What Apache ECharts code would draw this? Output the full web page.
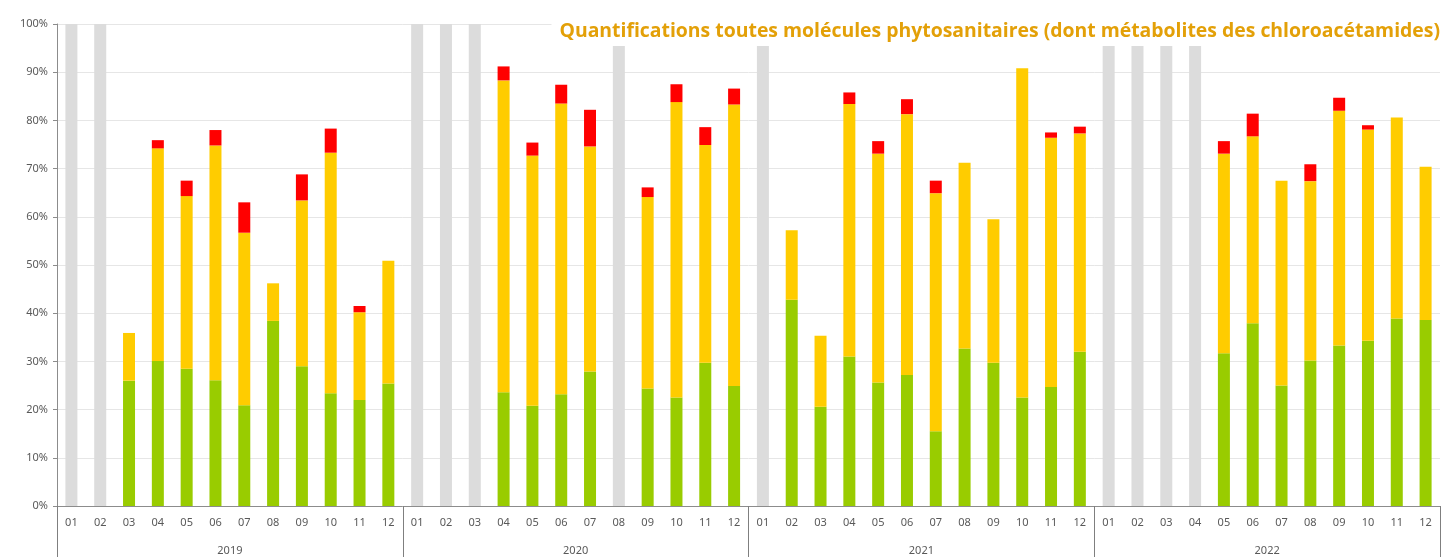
<!DOCTYPE html>
<html>
<head>
<meta charset="utf-8">
<script src="https://cdn.jsdelivr.net/npm/echarts@6/dist/echarts.min.js"></script>
<style>
  html, body { margin: 0; padding: 0; background: #fff; }
  #chart { width: 1444px; height: 557px; }
</style>
</head>
<body>
<div id="chart"></div>
<script>
// mois et années (axe à deux niveaux)
var years = ['2019', '2020', '2021', '2022'];
var months = ['01','02','03','04','05','06','07','08','09','10','11','12'];

// valeurs en % par segment (vert = bas, jaune = milieu, rouge = haut), '-' = pas de donnée
var green = [
  '-', '-', 26.0, 30.1, 28.5, 26.1, 20.9, 38.4, 29.0, 23.4, 22.0, 25.4,
  '-', '-', '-', 23.6, 20.8, 23.2, 27.9, '-', 24.4, 22.5, 29.7, 24.9,
  '-', 42.8, 20.6, 31.0, 25.6, 27.2, 15.5, 32.7, 29.7, 22.5, 24.7, 32.0,
  '-', '-', '-', '-', 31.7, 37.9, 25.0, 30.2, 33.3, 34.3, 38.9, 38.6
];
var yellow = [
  '-', '-', 9.9, 44.1, 35.8, 48.7, 35.8, 7.8, 34.4, 49.9, 18.2, 25.5,
  '-', '-', '-', 64.7, 51.9, 60.3, 46.7, '-', 39.7, 61.3, 45.2, 58.4,
  '-', 14.4, 14.7, 52.4, 47.5, 54.1, 49.4, 38.5, 29.8, 68.3, 51.7, 45.3,
  '-', '-', '-', '-', 41.4, 38.8, 42.5, 37.2, 48.7, 43.8, 41.7, 31.8
];
var red = [
  '-', '-', 0, 1.7, 3.2, 3.2, 6.3, 0, 5.4, 5.0, 1.3, 0,
  '-', '-', '-', 2.9, 2.7, 3.9, 7.6, '-', 2.0, 3.7, 3.7, 3.3,
  '-', 0, 0, 2.4, 2.6, 3.1, 2.6, 0, 0, 0, 1.1, 1.4,
  '-', '-', '-', '-', 2.6, 4.7, 0, 3.5, 2.7, 0.9, 0, 0
];
// mois sans prélèvement : barre grise pleine hauteur
var missing = [
  100, 100, '-', '-', '-', '-', '-', '-', '-', '-', '-', '-',
  100, 100, 100, '-', '-', '-', '-', 100, '-', '-', '-', '-',
  100, '-', '-', '-', '-', '-', '-', '-', '-', '-', '-', '-',
  100, 100, 100, 100, '-', '-', '-', '-', '-', '-', '-', '-'
];
var yTicks = [0, 10, 20, 30, 40, 50, 60, 70, 80, 90, 100];

var categories = [];
years.forEach(function (y) {
  months.forEach(function (m) { categories.push(m); });
});

var labelFont = { color: '#595959', fontSize: 11, fontFamily: 'Noto Sans' };

function barSerie(name, data, color) {
  return {
    name: name,
    type: 'bar',
    stack: 'total',
    barWidth: 12,
    data: data,
    itemStyle: { color: color },
    emphasis: { disabled: true }
  };
}

var myChart = echarts.init(document.getElementById('chart'));
myChart.setOption({
  animation: false,
  backgroundColor: '#fff',
  title: {
    text: 'Quantifications toutes molécules phytosanitaires (dont métabolites des chloroacétamides)',
    right: 0,
    top: 15,
    padding: [4, 4, 3, 8],
    backgroundColor: '#fff',
    textStyle: {
      color: '#E3A008',
      fontSize: 19.4,
      fontWeight: 'bold',
      fontFamily: 'Open Sans',
      lineHeight: 24
    }
  },
  grid: { left: 57, right: 4, top: 24, bottom: 51 },
  xAxis: [{
    type: 'category',
    data: categories,
    axisLine: { lineStyle: { color: '#8c8c8c' } },
    axisTick: { show: false },
    axisLabel: Object.assign({ interval: 0, margin: 11 }, labelFont)
  }, {
    type: 'category',
    data: years,
    position: 'bottom',
    axisLine: { show: false },
    axisTick: { show: true, length: 51, interval: 0, lineStyle: { color: '#7f7f7f' } },
    axisLabel: Object.assign({ interval: 0, margin: 39 }, labelFont)
  }],
  yAxis: {
    type: 'value',
    min: yTicks[0],
    max: yTicks[yTicks.length - 1],
    interval: 10,
    axisLine: { show: true, lineStyle: { color: '#8c8c8c' } },
    axisTick: { show: true, length: 4, lineStyle: { color: '#8c8c8c' } },
    axisLabel: Object.assign({ margin: 9, formatter: '{value}%' }, labelFont),
    splitLine: { lineStyle: { color: '#e6e6e6' } }
  },
  series: [
    barSerie('vert', green, '#99CC00'),
    barSerie('jaune', yellow, '#FFCC00'),
    barSerie('rouge', red, '#FF0000'),
    barSerie('absent', missing, '#DCDCDC')
  ]
});
</script>
</body>
</html>
